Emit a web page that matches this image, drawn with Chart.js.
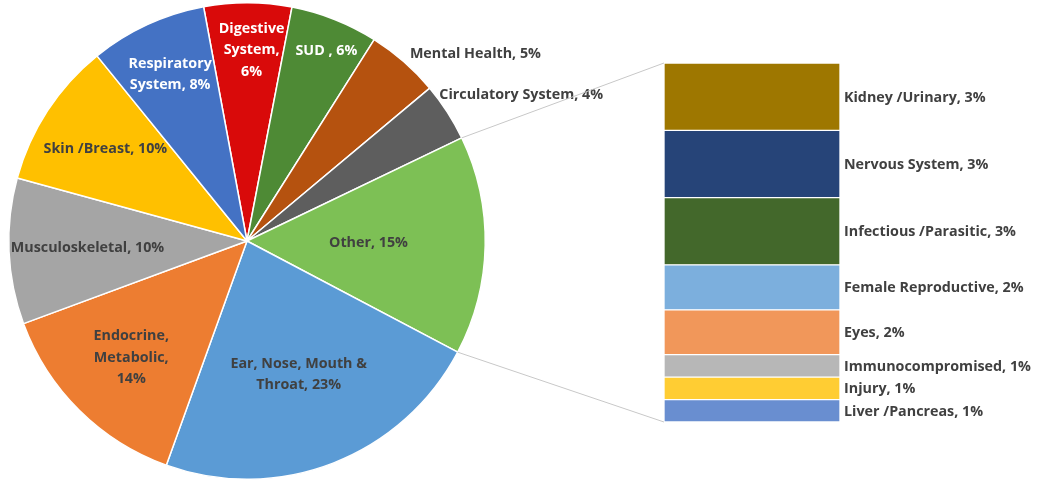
<!DOCTYPE html>
<html>
<head>
<meta charset="utf-8">
<script src="https://cdn.jsdelivr.net/npm/chart.js@4.4.1/dist/chart.umd.min.js"></script>
<style>
  html, body { margin: 0; padding: 0; background: #ffffff; }
  #wrap { position: relative; width: 1039px; height: 482px; }
  #wrap canvas { position: absolute; left: 0; top: 0; }
</style>
</head>
<body>
<div id="wrap">
  <canvas id="pie" width="1039" height="482"></canvas>
  <canvas id="bar" width="1039" height="482"></canvas>
</div>
<script>
// Main pie: diagnosis groups (percent of cases), clockwise from the top
const pieLabels = [
  ['Digestive', 'System,', '6%'],
  ['SUD , 6%'],
  ['Mental Health, 5%'],
  ['Circulatory System, 4%'],
  ['Other, 15%'],
  ['Ear, Nose, Mouth &', 'Throat, 23%'],
  ['Endocrine,', 'Metabolic,', '14%'],
  ['Musculoskeletal, 10%'],
  ['Skin /Breast, 10%'],
  ['Respiratory', 'System, 8%']
];
const pieValues = [6, 6, 5, 4, 15, 23, 14, 10, 10, 8];
const pieColors = ['#D90A0A', '#4E8A35', '#B5520F', '#5E5E5E', '#7DC055',
                   '#5B9BD5', '#ED7D31', '#A5A5A5', '#FFC000', '#4472C4'];
const pieTextColors = ['#ffffff', '#ffffff', '#404040', '#404040', '#404040',
                       '#404040', '#404040', '#404040', '#404040', '#ffffff'];
// label placement: fraction of the radius along the slice's middle angle,
// "out" means the label sits outside the pie, left-aligned
const pieLabelPos = [
  {r: 0.80, dx: 4, dy: 0}, {r: 0.86, dx: 4, dy: 0}, {r: 1.0, out: true, dx: 6, dy: -8},
  {r: 1.0, out: true, dx: -8, dy: -17}, {r: 0.51, dx: 0, dy: 0}, {r: 0.60, dx: 0, dy: 0},
  {r: 0.69, dx: 0, dy: 0}, {r: 0.67, dx: 0, dy: 0}, {r: 0.71, dx: 0, dy: 0},
  {r: 0.77, dx: 0, dy: 0}
];
const otherIndex = 4;

// Breakdown of "Other", listed top to bottom
const barLabels = ['Kidney /Urinary, 3%', 'Nervous System, 3%', 'Infectious /Parasitic, 3%',
                   'Female Reproductive, 2%', 'Eyes, 2%', 'Immunocompromised, 1%',
                   'Injury, 1%', 'Liver /Pancreas, 1%'];
const barValues = [3, 3, 3, 2, 2, 1, 1, 1];
const barColors = ['#9E7700', '#264478', '#43682B', '#7CAFDD', '#F1975A',
                   '#B7B7B7', '#FFCD33', '#698ED0'];

const FONT = '"Open Sans", "Lato", sans-serif';
const LINE_H = 21.5;

const pieLabelPlugin = {
  id: 'pieLabels',
  afterDatasetsDraw(chart) {
    const ctx = chart.ctx;
    const arcs = chart.getDatasetMeta(0).data;
    ctx.save();
    ctx.font = 'bold 14.3px ' + FONT;
    ctx.textBaseline = 'middle';
    arcs.forEach((arc, i) => {
      const mid = (arc.startAngle + arc.endAngle) / 2;
      const p = pieLabelPos[i];
      const r = arc.outerRadius * p.r;
      const cx = arc.x + Math.cos(mid) * r + p.dx;
      const cy = arc.y + Math.sin(mid) * r + p.dy;
      const lines = pieLabels[i];
      ctx.fillStyle = pieTextColors[i];
      ctx.textAlign = p.out ? 'left' : 'center';
      const y0 = cy - (lines.length - 1) * LINE_H / 2;
      lines.forEach((t, k) => ctx.fillText(t, cx, y0 + k * LINE_H));
    });
    ctx.restore();
  }
};

const pieChart = new Chart(document.getElementById('pie'), {
  type: 'pie',
  data: {
    labels: pieLabels.map(l => l.join(' ')),
    datasets: [{
      data: pieValues,
      backgroundColor: pieColors,
      borderColor: '#ffffff',
      borderWidth: 1.5
    }]
  },
  options: {
    responsive: false,
    animation: false,
    rotation: -10.5,
    layout: { padding: { left: 8, top: 2, right: 553, bottom: 2 } },
    plugins: { legend: { display: false }, tooltip: { enabled: false } },
    events: []
  },
  plugins: [pieLabelPlugin]
});

// connector lines from the "Other" slice to the stacked bar, plus bar labels
const barDecorPlugin = {
  id: 'barDecor',
  afterDatasetsDraw(chart) {
    const ctx = chart.ctx;
    const arc = pieChart.getDatasetMeta(0).data[otherIndex];
    const area = chart.chartArea;
    ctx.save();
    ctx.strokeStyle = '#C8C8C8';
    ctx.lineWidth = 1;
    const a1 = arc.startAngle, a2 = arc.endAngle, R = arc.outerRadius;
    ctx.beginPath();
    ctx.moveTo(arc.x + Math.cos(a1) * R, arc.y + Math.sin(a1) * R);
    ctx.lineTo(area.left, area.top);
    ctx.moveTo(arc.x + Math.cos(a2) * R, arc.y + Math.sin(a2) * R);
    ctx.lineTo(area.left, area.bottom);
    ctx.stroke();

    ctx.font = 'bold 14.3px ' + FONT;
    ctx.fillStyle = '#404040';
    ctx.textAlign = 'left';
    ctx.textBaseline = 'middle';
    chart.data.datasets.forEach((ds, i) => {
      const el = chart.getDatasetMeta(i).data[0];
      const yMid = (el.y + el.base) / 2;
      ctx.fillText(ds.label, el.x + el.width / 2 + 4, yMid + 1);
    });
    ctx.restore();
  }
};

// stacked datasets are drawn bottom-up, so feed them in reverse order
const barDatasets = barLabels.map((lab, i) => ({
  label: lab,
  data: [barValues[i]],
  backgroundColor: barColors[i],
  borderColor: '#ffffff',
  borderWidth: 1,
  borderSkipped: false,
  barPercentage: 1,
  categoryPercentage: 1
})).reverse();

const barTotal = barValues.reduce((a, b) => a + b, 0);

new Chart(document.getElementById('bar'), {
  type: 'bar',
  data: { labels: ['Other'], datasets: barDatasets },
  options: {
    responsive: false,
    animation: false,
    layout: { padding: { left: 664, top: 63, right: 199, bottom: 60 } },
    scales: {
      x: { stacked: true, display: false },
      y: { stacked: true, display: false, min: 0, max: barTotal }
    },
    plugins: { legend: { display: false }, tooltip: { enabled: false } },
    events: []
  },
  plugins: [barDecorPlugin]
});
</script>
</body>
</html>
